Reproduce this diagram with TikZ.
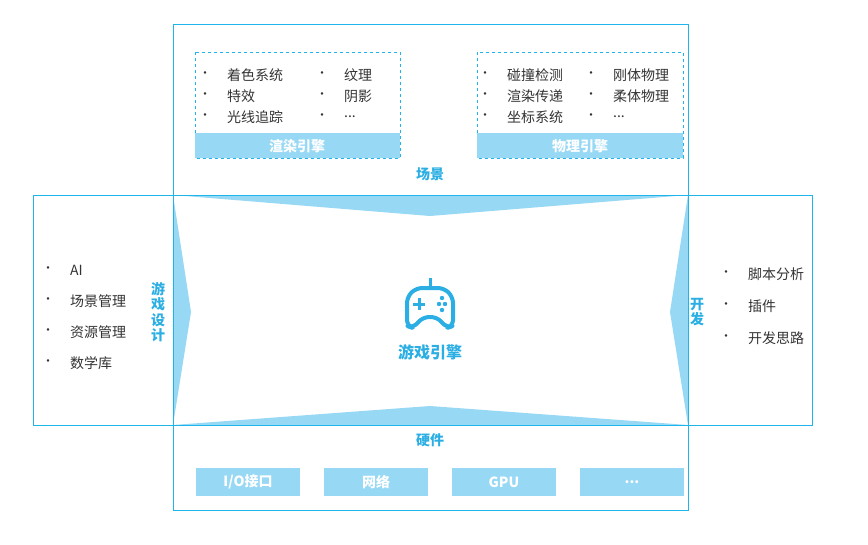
\documentclass[tikz,border=0pt]{standalone}
\usepackage{fontspec}
\setmainfont{Noto Sans CJK SC}
\usetikzlibrary{calc}
\definecolor{lineblue}{HTML}{1DB5EA}
\definecolor{fillblue}{HTML}{97D8F5}
\definecolor{txtblue}{HTML}{2AAEE3}
\definecolor{txtdark}{HTML}{333333}
\tikzset{
  item/.style={anchor=west,text=txtdark,font=\fontsize{14}{16}\selectfont,inner sep=0pt},
  dot/.style={anchor=center,text=txtdark,font=\fontsize{12}{14}\selectfont,inner sep=0pt},
  title/.style={text=txtblue,font=\fontsize{14}{16}\selectfont\bfseries,inner sep=0pt},
  bar/.style={fill=fillblue,draw=none},
  bartext/.style={text=white,font=\fontsize{14}{16}\selectfont\bfseries,inner sep=0pt},
  panel/.style={draw=lineblue,line width=1pt},
}
\newcommand{\blt}[3]{\node[dot] at (#1,#3) {•}; \node[item] at ($(#1,#3)+(22,0)$) {#2};}
\begin{document}
\begin{tikzpicture}[x=1pt,y=-1pt]
  \useasboundingbox (0,0) rectangle (868,544);
  % wedges
  \fill[fillblue] (173,195) -- (688,195) -- (430,216) -- cycle;
  \fill[fillblue] (173,425) -- (688,425) -- (430,406) -- cycle;
  \fill[fillblue] (173,195) -- (173,425) -- (191,312) -- cycle;
  \fill[fillblue] (688,195) -- (688,425) -- (670,312) -- cycle;
  % panels
  \draw[panel] (173,24) rectangle (688,510);
  \draw[panel] (33,195) rectangle (812,425);
  % top: rendering / physics
  \draw[lineblue,dashed] (195,52) rectangle (400,158);
  \fill[bar] (195,133) rectangle (400,158);
  \node[bartext] (render) at (297,146) {渲染引擎};
  \blt{205}{着色系统}{75} \blt{205}{特效}{96} \blt{205}{光线追踪}{117}
  \blt{322}{纹理}{75} \blt{322}{阴影}{96} \blt{322}{...}{117}
  \draw[lineblue,dashed] (477,52) rectangle (683,158);
  \fill[bar] (477,133) rectangle (683,158);
  \node[bartext] (physics) at (580,146) {物理引擎};
  \blt{485}{碰撞检测}{75} \blt{485}{渲染传递}{96} \blt{485}{坐标系统}{117}
  \blt{591}{刚体物理}{75} \blt{591}{柔体物理}{96} \blt{591}{...}{117}
  \node[title] (scene) at (430,174) {场景};
  % left
  \blt{48}{AI}{270} \blt{48}{场景管理}{301} \blt{48}{资源管理}{332} \blt{48}{数学库}{363}
  \node[title,align=center,font=\fontsize{14}{15.5}\selectfont\bfseries] (design) at (158,312) {游\\戏\\设\\计};
  % right
  \node[title,align=center,font=\fontsize{14}{15.5}\selectfont\bfseries] (dev) at (697,312) {开\\发};
  \blt{726}{脚本分析}{274} \blt{726}{插件}{306} \blt{726}{开发思路}{338}
  % bottom
  \node[title] (hw) at (430,440) {硬件};
  \foreach \x/\t [count=\i] in {196/{I/O接口},324/{网络},452/{GPU},580/{{...}}}{
    \fill[bar] (\x,468) rectangle ++(104,28);
    \node[bartext] (hw\i) at (\x+52,482) {\t};
  }
  % centre
  \draw[txtblue,line width=4pt,rounded corners=6pt,line join=round]
    (407,326) -- (407,297) -- (416,288) -- (444,288) -- (453,297) -- (453,326)
    -- (447,328) -- (437,317) -- (423,317) -- (413,328) -- cycle;
  \draw[txtblue,line width=3pt] (430,288) -- (430,278);
  \draw[txtblue,line width=3pt] (413,304) -- (425,304) (419,298) -- (419,310);
  \foreach \p in {(439,304),(445,304),(442,298),(442,310)} \fill[txtblue] \p circle (2.2);
  \node[title,font=\fontsize{16}{18}\selectfont\bfseries] (engine) at (430,352) {游戏引擎};
\end{tikzpicture}
\end{document}
